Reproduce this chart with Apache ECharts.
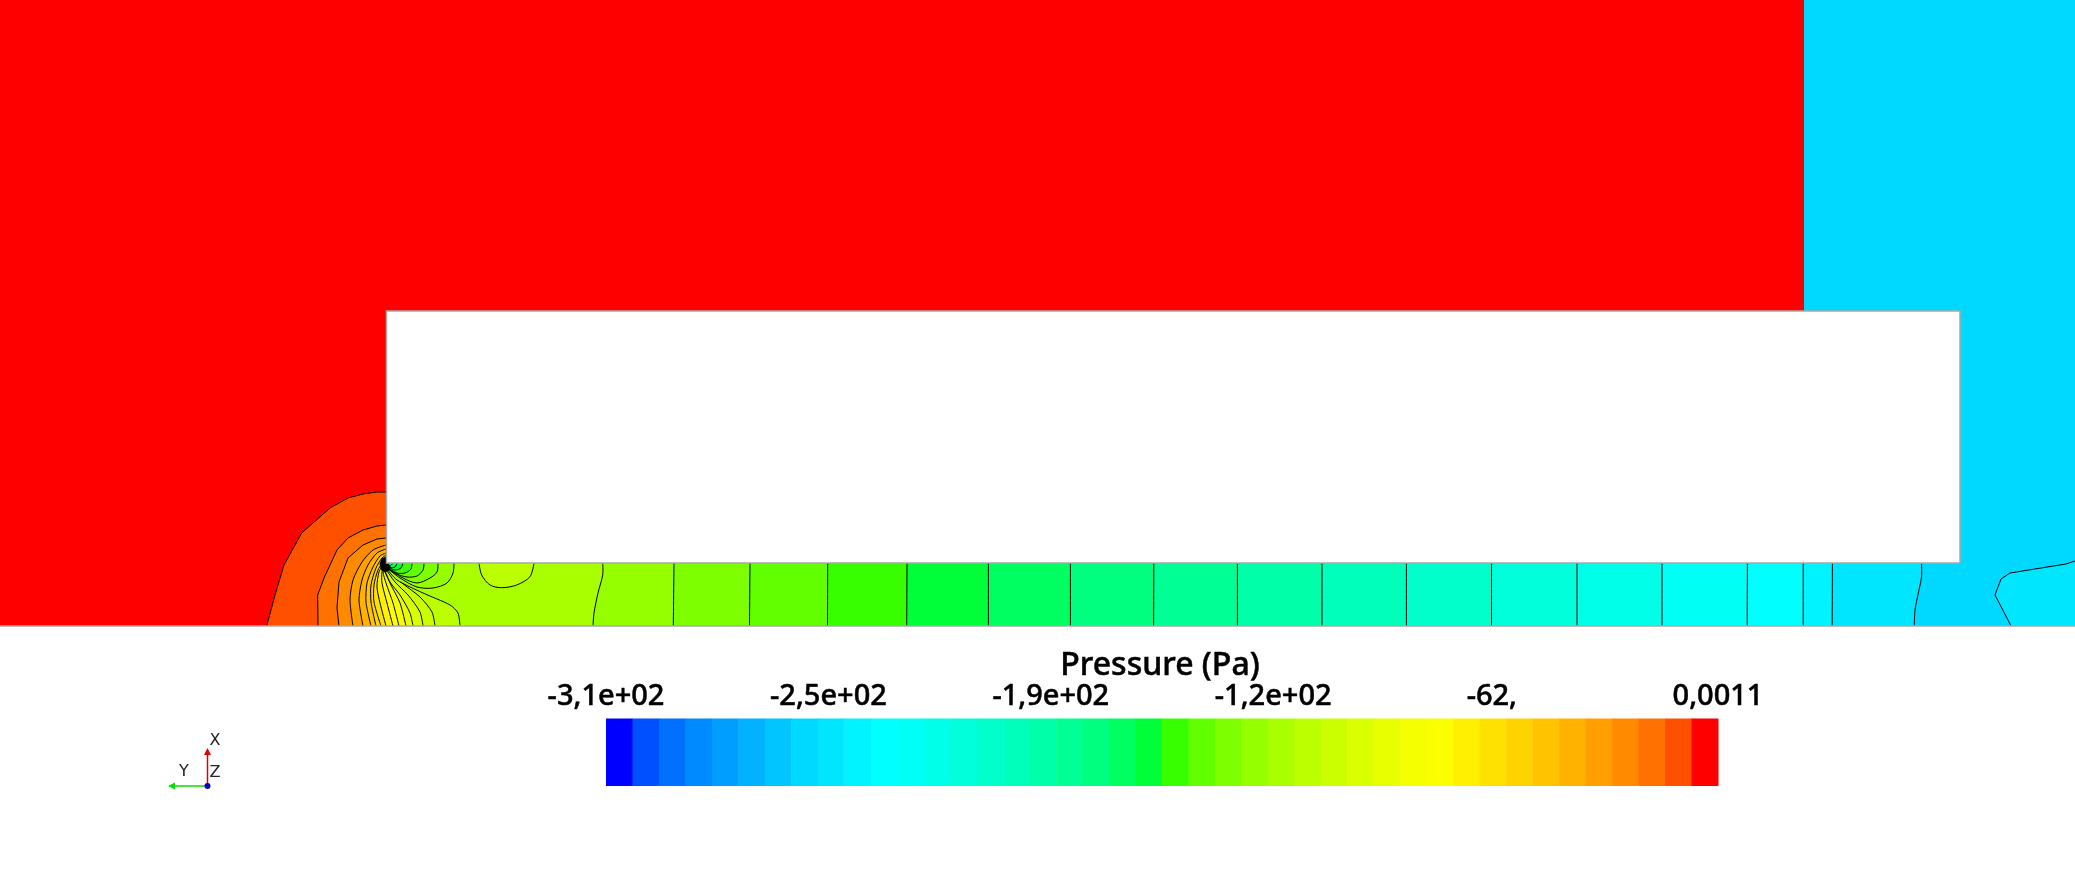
<!DOCTYPE html>
<html>
<head>
<meta charset="utf-8">
<title>Pressure</title>
<style>
    html, body { margin: 0; padding: 0; background: #fff; }
    #chart { width: 2075px; height: 874px; }
</style>
<script src="https://cdn.jsdelivr.net/npm/echarts@6/dist/echarts.min.js"></script>
</head>
<body>
<div id="chart"></div>
<script>
// colour of each of the 42 legend bands, low to high
const bandColors = [
    '#0000ff', '#0050ff', '#0071ff', '#008aff', '#009fff', '#00b2ff', '#00c5ff',
    '#00d9ff', '#00e6ff', '#00f3ff', '#00ffff', '#00fff5', '#00ffe8', '#00ffda',
    '#00ffcb', '#00ffbb', '#00ffa9', '#00ff95', '#00ff7e', '#00ff61', '#00ff38',
    '#38ff00', '#61ff00', '#7eff00', '#95ff00', '#a9ff00', '#bbff00', '#cbff00',
    '#daff00', '#e8ff00', '#f5ff00', '#fcff00', '#ffef00', '#ffe100', '#ffd300',
    '#ffc300', '#ffb200', '#ff9f00', '#ff8a00', '#ff7100', '#ff5000', '#ff0000'
];
const tickLabels = ['-3,1e+02', '-2,5e+02', '-1,9e+02', '-1,2e+02', '-62, ', '0,0011'];

// contours, [x, y] in image units
// left fan: isolines leaving the bottom wall, named by the band they enclose
const fan40 = [[266.7, 626], [275, 595], [284, 565], [301.7, 533], [330, 508], [348, 498], [363, 494], [377, 492], [386, 492]];
const fan39 = [[318, 626], [317.7, 595], [324, 578], [337, 550], [348, 538], [363, 530], [377, 526], [386, 525]];
const fan38 = [[339, 626], [337, 608], [339, 582], [348, 558], [363, 545], [377, 539], [386, 538]];
const fan37 = [[353, 626], [350, 600], [353, 580], [362, 562], [373, 550], [386, 545]];
const fan36 = [[363, 626], [359, 600], [362, 580], [368, 565], [377, 553], [386, 549]];
const fan35 = [[371, 626], [366, 602], [367, 583], [373, 567], [380, 556], [386, 553]];
const fan34 = [[376, 626], [371, 602], [371, 585], [376, 568], [382, 558], [386, 555]];
const fan33 = [[381, 626], [374, 602], [374, 585], [378, 570], [386, 557]];
const fan32 = [[386, 626], [380, 603], [377, 587], [379, 572], [384, 563]];
const fan31 = [[393, 626], [387, 603], [382, 583], [382, 572], [384, 566]];
const fan30 = [[399, 626], [393, 603], [386, 583], [383, 572], [384, 566]];
const fan29 = [[406, 626], [400, 603], [391, 585], [385, 572], [384, 566]];
const fan28 = [[413, 626], [410, 613], [400, 595], [390, 582], [384, 568]];
const fan27 = [[423, 626], [420, 612], [408, 595], [395, 582], [385, 568]];
const fan26 = [[435, 626], [432, 612], [420, 597], [402, 583], [386, 568]];
const fan25 = [[460, 626], [458, 613], [450, 605], [423, 593], [397, 580], [386, 568]];
const fanLines = [fan40, fan39, fan38, fan37, fan36, fan35, fan34, fan33, fan32, fan31, fan30, fan29, fan28, fan27, fan26, fan25];
const fanBands = [40, 39, 38, 37, 36, 35, 34, 33, 32, 31, 30, 29, 28, 27, 26, 25];

// low-pressure lobes under the corner of the block
const lobe24 = [[454, 563], [453, 573], [447, 583], [433, 588], [417, 587], [400, 578], [387, 568]];
const lobe23 = [[438, 563], [437, 572], [430, 578], [417, 583], [403, 578], [387, 568]];
const lobe22 = [[424, 563], [423, 570], [417, 576], [407, 577], [397, 574], [386, 567]];
const lobe21 = [[412, 563], [411, 569], [405, 573], [397, 573], [387, 567]];
const lobe20 = [[403, 563], [401, 568], [395, 570], [388, 567]];
const lobe19 = [[397, 563], [395, 567], [390, 567.5], [386, 566]];
const lobe18 = [[393, 563], [390, 566], [387, 565]];
const lobe17 = [[389.5, 563], [387.5, 564.5]];
const lobeLines = [lobe24, lobe23, lobe22, lobe21, lobe20, lobe19, lobe18, lobe17];
const lobeBands = [24, 23, 22, 21, 20, 19, 18, 17];
const island26 = [[479, 563], [481.7, 575], [490, 585], [501.7, 587.7], [516.7, 585], [530, 576.7], [534, 563]];
const coreOutline = [[386, 556.5], [381.5, 558.5], [379.5, 564], [381, 570], [385, 572.5], [389, 570.5], [390.5, 566], [388, 563]];

// isolines crossing the channel, top wall to bottom wall
const channelLines = [
    [[602.7, 563], [602.7, 575], [598, 593], [594, 613], [593, 626]],
    [[674, 563], [673.3, 626]],
    [[750, 563], [749.5, 626]],
    [[827.7, 563], [827.5, 626]],
    [[907, 563], [906.7, 626]],
    [[988.4, 563], [988.4, 626]],
    [[1070.4, 563], [1070.4, 626]],
    [[1153.8, 563], [1153.6, 626]],
    [[1237.4, 563], [1237.4, 626]],
    [[1322, 563], [1322, 626]],
    [[1406.4, 563], [1406.4, 626]],
    [[1491.5, 563], [1491.5, 626]],
    [[1577, 563], [1577, 626]],
    [[1662, 563], [1662, 626]],
    [[1747.4, 563], [1747.2, 626]],
    [[1803.2, 563], [1803.2, 626]],
    [[1832.4, 563], [1832.2, 626]],
    [[1921.5, 563], [1921.5, 577], [1918.3, 593], [1915, 610], [1914.3, 626]]
];
const channelBands = [24, 23, 22, 21, 20, 19, 18, 17, 16, 15, 14, 13, 12, 11, 10, 9, 8, 7];
const outletLine = [[2011, 626], [2008, 620], [1995, 595], [2001, 579], [2010, 573], [2066, 564], [2075, 561]];

// zones and the block, as [x0, y0, x1, y1]
const zoneInlet = [0, 0, 1803.5, 626];
const zoneOutlet = [1803.5, 0, 2075, 563];
const block = [386.5, 311, 1960, 563];

const WALL = '#a8a8a8';

function shape(points, closing, band, smooth) {
    return { points: points, closing: closing, fill: bandColors[band], smooth: smooth };
}

// painted back to front, each one overdraws the lower-numbered side
const shapes = [];
fanLines.forEach(function (line, i) {
    // the outer rings are coarse and stay angular
    shapes.push(shape(line, [[386, 563], [2075, 563], [2075, 626]], fanBands[i], i < 3 ? 0 : 0.25));
});
shapes.push(shape(island26, [], 26, 0.3));
channelLines.forEach(function (line, i) {
    shapes.push(shape(line, [[2075, 626], [2075, 563]], channelBands[i], 0.3));
});
shapes.push(shape(outletLine, [[2075, 626]], 8, 0));
lobeLines.forEach(function (line, i) {
    shapes.push(shape(line, [[386, 563]], lobeBands[i], 0.3));
});

function renderContour(params, api) {
    const s = shapes[params.dataIndex];
    const line = s.points.map(function (p) { return api.coord(p); });
    const outline = line.concat(s.closing.map(function (p) { return api.coord(p); }));
    return {
        type: 'group',
        children: [
            { type: 'polygon', shape: { points: outline }, style: { fill: s.fill, stroke: null } },
            { type: 'polyline', shape: { points: line, smooth: s.smooth }, style: { fill: null, stroke: '#000', lineWidth: 1 } }
        ]
    };
}

function box(api, b, style) {
    const a = api.coord([b[0], b[1]]);
    const c = api.coord([b[2], b[3]]);
    return { type: 'rect', shape: { x: a[0], y: a[1], width: c[0] - a[0], height: c[1] - a[1] }, style: style };
}

const option = {
    animation: false,
    backgroundColor: '#fff',
    textStyle: { fontFamily: '"Noto Sans", sans-serif' },
    title: {
        text: 'Pressure (Pa)',
        left: 1155,
        top: 645,
        textAlign: 'center',
        textStyle: {
            fontFamily: '"Noto Sans", sans-serif', fontSize: 32, fontWeight: 500, color: '#000',
            textBorderColor: '#000', textBorderWidth: 0.5
        }
    },
    grid: [
        { left: 0, top: 0, width: 2075, height: 874 },
        { left: 606, top: 718.6, width: 1112, height: 67.4 }
    ],
    xAxis: [
        { type: 'value', gridIndex: 0, min: 0, max: 2075, show: false },
        {
            type: 'value', gridIndex: 1, min: 0, max: 42, interval: 8.4, position: 'top',
            axisLine: { show: false }, axisTick: { show: false }, splitLine: { show: false },
            axisLabel: {
                show: true, margin: 7, color: '#000', fontSize: 29,
                fontFamily: '"Noto Sans", sans-serif', fontWeight: 500,
                textBorderColor: '#000', textBorderWidth: 0.5,
                hideOverlap: false, showMinLabel: true, showMaxLabel: true,
                formatter: function (v) { return tickLabels[Math.round(v / 8.4)]; }
            }
        }
    ],
    yAxis: [
        { type: 'value', gridIndex: 0, min: 0, max: 874, inverse: true, show: false },
        { type: 'value', gridIndex: 1, min: 0, max: 1, show: false }
    ],
    series: [
        {
            // far field zones
            type: 'custom', xAxisIndex: 0, yAxisIndex: 0, silent: true, clip: false,
            data: [0],
            renderItem: function (params, api) {
                return { type: 'group', children: [
                    box(api, zoneInlet, { fill: bandColors[41] }),
                    box(api, zoneOutlet, { fill: bandColors[7] })
                ] };
            }
        },
        {
            type: 'custom', xAxisIndex: 0, yAxisIndex: 0, silent: true, clip: false,
            data: shapes.map(function (s, i) { return i; }),
            renderItem: renderContour
        },
        {
            // block, walls and the black knot of isolines at its corner
            type: 'custom', xAxisIndex: 0, yAxisIndex: 0, silent: true, clip: false,
            data: [0],
            renderItem: function (params, api) {
                const wallLine = { stroke: WALL, lineWidth: 1.5, fill: null };
                const p = function (x, y) { return api.coord([x, y]); };
                return { type: 'group', children: [
                    { type: 'polygon', shape: { points: coreOutline.map(function (c) { return api.coord(c); }) }, style: { fill: '#000' } },
                    { type: 'polyline', shape: { points: [p(1803.5, 0), p(1803.5, 311)] }, style: { stroke: 'rgba(0,0,0,0.55)', lineWidth: 1, fill: null } },
                    box(api, block, { fill: '#fff', stroke: WALL, lineWidth: 1.5 }),
                    { type: 'polyline', shape: { points: [p(0, 626), p(2075, 626)] }, style: wallLine }
                ] };
            }
        },
        {
            // legend bands
            type: 'custom', xAxisIndex: 1, yAxisIndex: 1, silent: true, clip: false,
            data: bandColors.map(function (c, i) { return [i, i + 1]; }),
            encode: { x: [0, 1] },
            renderItem: function (params, api) {
                const a = api.coord([api.value(0), 1]);
                const b = api.coord([api.value(1), 0]);
                return { type: 'rect', shape: { x: a[0], y: a[1], width: b[0] - a[0] + 0.5, height: b[1] - a[1] }, style: { fill: bandColors[params.dataIndex] } };
            }
        },
        {
            // orientation triad
            type: 'custom', xAxisIndex: 0, yAxisIndex: 0, silent: true, clip: false,
            data: [0],
            renderItem: function (params, api) {
                const p = function (x, y) { return api.coord([x, y]); };
                const label = function (t, x, y) {
                    const c = p(x, y);
                    return { type: 'text', style: { text: t, x: c[0], y: c[1], fill: '#222', font: '16px "DejaVu Sans"', textAlign: 'center', textVerticalAlign: 'middle' } };
                };
                return { type: 'group', children: [
                    { type: 'polyline', shape: { points: [p(207.5, 786), p(207.5, 753)] }, style: { stroke: '#e00000', lineWidth: 1.5, fill: null } },
                    { type: 'polygon', shape: { points: [p(207.5, 748), p(204, 755), p(211, 755)] }, style: { fill: '#e00000' } },
                    { type: 'polyline', shape: { points: [p(207, 786), p(173, 786)] }, style: { stroke: '#00e000', lineWidth: 1.5, fill: null } },
                    { type: 'polygon', shape: { points: [p(168, 786), p(175, 782.5), p(175, 789.5)] }, style: { fill: '#00e000' } },
                    { type: 'circle', shape: { cx: p(207.5, 786)[0], cy: p(207.5, 786)[1], r: 3 }, style: { fill: '#0000c0' } },
                    label('X', 215, 741), label('Y', 184, 772), label('Z', 215, 773)
                ] };
            }
        }
    ]
};

const myChart = echarts.init(document.getElementById('chart'));
myChart.setOption(option);
</script>
</body>
</html>
